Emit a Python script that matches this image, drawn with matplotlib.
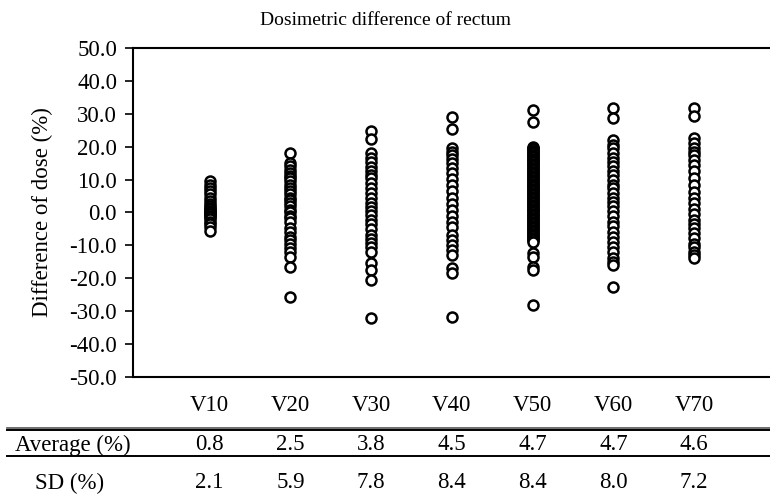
import matplotlib
matplotlib.use("Agg")
import matplotlib.pyplot as plt
import matplotlib.transforms as mtransforms
from matplotlib.lines import Line2D
from matplotlib.ticker import FormatStrFormatter

plt.rcParams['font.family'] = ['Liberation Serif', 'DejaVu Serif']
plt.rcParams['axes.unicode_minus'] = False

# ---- data ----
categories = ["V10", "V20", "V30", "V40", "V50", "V60", "V70"]

v10 = [9.5, 8.5, 7.5, 6.5, 5.5, 4.5, 3.5, 2.5, 2.0, 1.5, 1.0, 0.5, 0.0, 0.0,
       -0.5, -0.5, -1.0, -1.5, -2.0, -3.0, -3.5, -4.5, -5.5]
v20 = [18.2, 15.0, 14.0, 12.9, 12.0, 11.0, 10.4, 9.5, 8.5, 7.4, 6.5, 5.5, 4.5,
       3.8, 3.0, 2.0, 0.8, 0.0, -1.0, -1.8, -3.0, -4.8, -6.0, -7.4, -8.5, -9.5,
       -10.9, -12.0, -13.4, -16.7, -25.6]
v30 = [24.9, 22.2, 18.2, 16.5, 15.2, 13.9, 12.5, 11.5, 10.4, 9.0, 7.5, 6.0, 4.3,
       3.0, 1.8, 0.5, -0.8, -2.3, -3.5, -5.0, -6.8, -8.0, -9.4, -10.5, -11.9,
       -15.4, -17.5, -20.5, -32.2]
v40 = [28.9, 25.3, 19.5, 18.5, 17.5, 16.2, 15.0, 13.5, 11.9, 10.2, 8.4, 6.5, 4.3,
       2.5, 0.8, -1.0, -2.8, -4.5, -6.8, -8.5, -9.9, -11.5, -12.9, -17.0, -18.5,
       -31.7]
v50 = [31.2, 27.4, 20.0, 19.6, 19.2, 18.8, 18.4, 18.0, 17.6, 17.2, 16.8, 16.4,
       16.0, 15.6, 15.2, 14.8, 14.4, 14.0, 13.6, 13.2, 12.8, 12.4, 12.0, 11.6,
       11.2, 10.8, 10.4, 10.0, 9.6, 9.2, 8.8, 8.4, 8.0, 7.6, 7.2, 6.8, 6.4, 6.0,
       5.6, 5.2, 4.8, 4.4, 4.0, 3.6, 3.2, 2.8, 2.4, 2.0, 1.6, 1.2, 0.8, 0.4, 0.0,
       -0.4, -0.8, -1.2, -1.6, -2.0, -2.4, -2.8, -3.2, -3.6, -4.0, -4.4, -4.8,
       -5.2, -5.6, -6.0, -6.4, -6.8, -7.2, -7.6, -8.0, -8.4, -8.9,
       -12.4, -13.4, -16.5, -17.5, -28.1]
v60 = [31.7, 28.6, 22.0, 20.5, 19.5, 18.0, 16.5, 15.4, 14.0, 12.5, 11.4, 10.0,
       8.5, 7.4, 6.0, 4.5, 3.3, 2.0, 0.5, -1.0, -2.8, -4.2, -5.8, -7.5, -8.9,
       -10.5, -12.0, -13.9, -15.0, -16.0, -22.5]
v70 = [31.7, 29.4, 22.5, 21.0, 19.5, 18.5, 17.5, 16.0, 14.4, 12.5, 10.4, 8.5,
       6.3, 4.5, 2.8, 1.0, -0.5, -2.3, -3.5, -4.8, -6.3, -7.8, -9.5, -10.5,
       -11.9, -13.0, -13.9]
series = [v10, v20, v30, v40, v50, v60, v70]

average = ["0.8", "2.5", "3.8", "4.5", "4.7", "4.7", "4.6"]
sd = ["2.1", "5.9", "7.8", "8.4", "8.4", "8.0", "7.2"]

FS = 16.5

# ---- figure ----
fig = plt.figure(figsize=(7.7, 4.99), dpi=100)
ax = fig.add_axes([0.1727, 0.2445, 0.8273, 0.6593])

for i, vals in enumerate(series):
    ax.plot([i + 1] * len(vals), vals, linestyle='none', marker='o',
            markersize=7.2, markerfacecolor='white', markeredgecolor='black',
            markeredgewidth=1.8, clip_on=False)

ax.set_xlim(0.05, 7.94)
ax.set_ylim(-50, 50)
ax.set_yticks(range(-50, 51, 10))
ax.yaxis.set_major_formatter(FormatStrFormatter('%.1f'))
ax.set_xticks(range(1, 8))
ax.set_xticklabels(categories)
ax.tick_params(axis='x', length=0, pad=13, labelsize=FS)
ax.tick_params(axis='y', direction='out', length=6, width=1.2, labelsize=FS, pad=5.5)

for side in ['left', 'top', 'bottom']:
    ax.spines[side].set_linewidth(1.5)
ax.spines['right'].set_visible(False)

ax.set_ylabel("Difference of dose (%)", fontsize=FS, labelpad=12)
fig.text(0.5, 0.958, "Dosimetric difference of rectum", ha='center', va='center',
         fontsize=14)

# ---- table below the chart ----
trans = mtransforms.blended_transform_factory(ax.transData, fig.transFigure)
row_y = [1 - 445 / 499, 1 - 483 / 499]
fig.text(73 / 770, row_y[0], "Average (%)", ha='center', va='center', fontsize=FS)
fig.text(70 / 770, row_y[1], "SD (%)", ha='center', va='center', fontsize=FS)
for i in range(len(categories)):
    ax.text(i + 1, row_y[0], average[i], transform=trans, ha='center', va='center',
            fontsize=FS)
    ax.text(i + 1, row_y[1], sd[i], transform=trans, ha='center', va='center',
            fontsize=FS)

fig.add_artist(Line2D([7 / 770, 1], [1 - 427.5 / 499] * 2, color='#555555', lw=1.2))
fig.add_artist(Line2D([7 / 770, 1], [1 - 430 / 499] * 2, color='black', lw=1.4))
fig.add_artist(Line2D([7 / 770, 1], [1 - 456 / 499] * 2, color='black', lw=1.4))

fig.savefig("out.png", dpi=100)
